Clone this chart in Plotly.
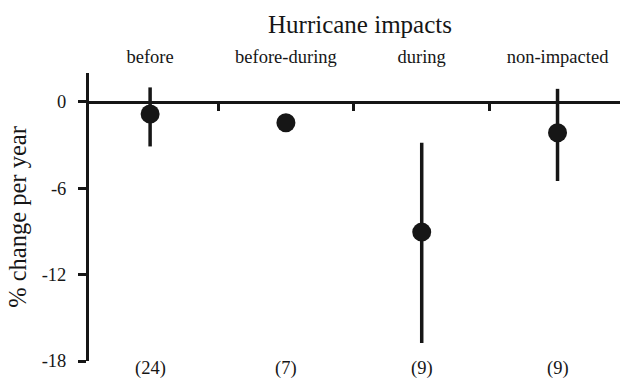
import plotly.graph_objects as go

categories = ["before", "before-during", "during", "non-impacted"]
counts = ["(24)", "(7)", "(9)", "(9)"]
means = [-0.85, -1.45, -9.05, -2.15]
upper = [1.0, -1.45, -2.85, 0.9]
lower = [-3.1, -1.45, -16.75, -5.5]

y_ticks = [0, -6, -12, -18]
y_range = [-18, 2]
x_range = [-0.45, 3.46]
boundaries = [0.5, 1.5, 2.5]

xpos = list(range(len(categories)))
err_plus = [u - m for u, m in zip(upper, means)]
err_minus = [m - l for m, l in zip(means, lower)]

FONT = "Liberation Serif"
INK = "#161616"

fig = go.Figure()
fig.add_trace(go.Scatter(
    x=xpos, y=means, mode="markers",
    marker=dict(size=19, color=INK),
    error_y=dict(type="data", symmetric=False, array=err_plus, arrayminus=err_minus,
                 width=0, thickness=3.5, color=INK),
    showlegend=False, hoverinfo="skip",
))
fig.add_trace(go.Scatter(x=xpos, y=means, xaxis="x2", mode="markers",
                         marker=dict(opacity=0), showlegend=False, hoverinfo="skip"))
fig.add_trace(go.Scatter(x=xpos, y=means, xaxis="x3", mode="markers",
                         marker=dict(opacity=0), showlegend=False, hoverinfo="skip"))

zero_pos = (0 - y_range[0]) / (y_range[1] - y_range[0])

annotations = [dict(text="Hurricane impacts", xref="paper", yref="paper",
                    x=0.51, y=1, yshift=49, xanchor="center", yanchor="middle",
                    showarrow=False, font=dict(size=25, family=FONT, color=INK))]
for xp, c in zip(xpos, counts):
    annotations.append(dict(text=c, xref="x", yref="paper", x=xp, y=0, yshift=5,
                            xanchor="center", yanchor="top", showarrow=False,
                            font=dict(size=18.5, family=FONT, color=INK)))

fig.update_layout(
    width=622, height=378,
    margin=dict(l=89, r=2, t=73, b=17),
    paper_bgcolor="white", plot_bgcolor="white",
    font=dict(family=FONT, color=INK, size=18),
    xaxis=dict(range=x_range, showticklabels=False, showline=False,
               ticks="", showgrid=False, zeroline=False, automargin=False),
    xaxis2=dict(range=x_range, overlaying="x", side="top", tickvals=xpos,
                ticktext=categories, showline=False, ticks="", showgrid=False,
                zeroline=False, ticklabelstandoff=5, automargin=False,
                tickfont=dict(size=18.5, family=FONT, color=INK)),
    xaxis3=dict(range=x_range, overlaying="x", anchor="free", position=zero_pos,
                side="bottom", tickvals=boundaries, showticklabels=False,
                showline=True, linewidth=3, linecolor=INK, ticks="outside", automargin=False,
                ticklen=7, tickwidth=3, tickcolor=INK, showgrid=False, zeroline=False),
    yaxis=dict(range=y_range, tickvals=y_ticks, ticktext=[str(v) for v in y_ticks],
               showline=True, linewidth=3, linecolor=INK, ticks="outside",
               ticklen=8, tickwidth=3, tickcolor=INK, showgrid=False, zeroline=False,
               ticklabelstandoff=8, automargin=False,
               tickfont=dict(size=18.5, family=FONT, color=INK),
               title=dict(text="% change per year", font=dict(size=24.5, family=FONT, color=INK),
                          standoff=9)),
    annotations=annotations,
)

fig.write_html("out.html")
